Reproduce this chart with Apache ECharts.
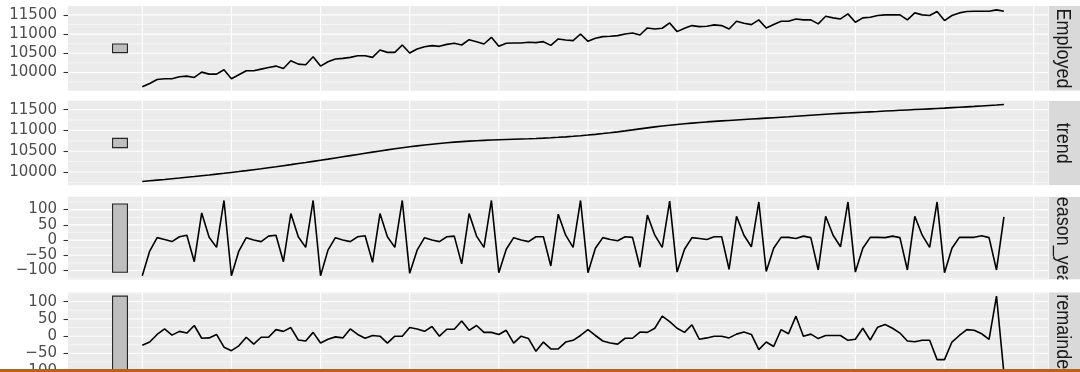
<!DOCTYPE html>
<html>
<head>
<meta charset="utf-8">
<script src="https://cdn.jsdelivr.net/npm/echarts@6/dist/echarts.min.js"></script>
<style>
  html, body { margin: 0; padding: 0; background: #ffffff; }
  #chart { width: 1080px; height: 372px; }
</style>
</head>
<body>
<div id="chart"></div>
<script>
// Monthly STL decomposition of employment: observed series and its components.
const employed = [
  9627, 9714, 9819, 9836, 9836, 9889, 9906, 9871, 10010, 9958, 9958, 10071,
  9836, 9941, 10045, 10045, 10089, 10132, 10167, 10106, 10307, 10219, 10202, 10411,
  10167, 10280, 10350, 10368, 10394, 10437, 10437, 10394, 10585, 10524, 10524, 10716,
  10507, 10611, 10672, 10699, 10681, 10733, 10760, 10716, 10855, 10803, 10742, 10916,
  10681, 10760, 10768, 10768, 10786, 10777, 10803, 10707, 10873, 10847, 10829, 11003,
  10812, 10890, 10934, 10942, 10960, 11003, 11030, 10977, 11160, 11134, 11152, 11291,
  11064, 11152, 11221, 11195, 11204, 11239, 11221, 11134, 11334, 11282, 11247, 11369,
  11160, 11247, 11334, 11334, 11395, 11369, 11369, 11265, 11465, 11422, 11395, 11526,
  11308, 11422, 11439, 11483, 11500, 11500, 11500, 11369, 11552, 11500, 11483, 11587,
  11352, 11483, 11552, 11587, 11596, 11596, 11596, 11631, 11596
];
const trend = [
  9772, 9788, 9804, 9820, 9837, 9854, 9872, 9890, 9909, 9928, 9948, 9968,
  9989, 10010, 10032, 10055, 10078, 10102, 10126, 10151, 10176, 10202, 10228, 10255,
  10282, 10309, 10337, 10365, 10393, 10421, 10449, 10477, 10504, 10531, 10557, 10582,
  10606, 10628, 10649, 10668, 10686, 10702, 10717, 10730, 10742, 10752, 10761, 10769,
  10776, 10782, 10788, 10794, 10800, 10807, 10815, 10824, 10834, 10845, 10858, 10872,
  10888, 10905, 10924, 10944, 10965, 10988, 11012, 11037, 11061, 11084, 11105, 11124,
  11142, 11159, 11175, 11190, 11204, 11217, 11229, 11240, 11251, 11262, 11273, 11284,
  11295, 11306, 11317, 11328, 11340, 11352, 11364, 11376, 11388, 11399, 11410, 11419,
  11428, 11437, 11446, 11455, 11465, 11474, 11483, 11492, 11501, 11510, 11519, 11528,
  11537, 11547, 11557, 11567, 11577, 11588, 11599, 11610, 11622
];
const seasonYear = [
  -117, -36, 8, 2, -5, 11, 16, -71, 89, 9, -24, 130,
  -117, -36, 8, 0, -5, 13, 16, -71, 87, 11, -24, 130,
  -117, -33, 8, 0, -5, 11, 14, -73, 87, 11, -24, 130,
  -109, -33, 8, 0, -5, 11, 13, -78, 87, 13, -24, 130,
  -107, -30, 8, 0, -5, 11, 11, -85, 85, 16, -24, 130,
  -107, -27, 8, 2, -2, 11, 9, -89, 82, 16, -24, 128,
  -105, -30, 8, 5, 2, 11, 11, -96, 78, 16, -22, 125,
  -103, -27, 9, 9, 5, 13, 8, -98, 78, 16, -22, 125,
  -105, -27, 9, 9, 8, 13, 8, -98, 78, 16, -24, 125,
  -107, -27, 9, 9, 9, 14, 8, -98, 76
];
const remainder = [
  -26, -17, 5, 21, 3, 14, 9, 31, -6, -5, 5, -32,
  -42, -28, -3, -23, -3, -3, 19, 14, 25, -11, -14, 11,
  -20, -9, -2, -5, 21, 5, -6, 2, 0, -20, 0, 0,
  25, 21, 14, 28, 0, 20, 20, 44, 17, 31, 11, 11,
  5, 17, -20, 0, -7, -44, -17, -37, -37, -17, -12, 2,
  19, 2, -14, -20, -23, -6, -6, 12, 11, 23, 58, 42,
  23, 11, 33, -9, -5, 0, 0, -5, 6, 12, 5, -39,
  -17, -30, 19, 7, 58, 0, 6, -7, 2, 2, 2, -12,
  -9, 23, -11, 26, 34, 23, 9, -14, -16, -12, -12, -68,
  -68, -17, 2, 19, 17, 7, -9, 116, -108
];

const panelNames = ['Employed', 'trend', 'season_year', 'remainder'];
const levelTicks = [10000, 10500, 11000, 11500];
const levelMinor = [9750, 10250, 10750, 11250];
const swingTicks = [-100, -50, 0, 50, 100];
const swingMinor = [-125, -75, -25, 25, 75, 125];
const yearBreaks = [0, 12, 24, 36, 48, 60, 72, 84, 96, 108, 120];

// ---- layout ----
const PANEL_LEFT = 68;
const PANEL_RIGHT = 1048.5;
const PANEL_TOPS = [6, 100.7, 196.7, 292.3];
const PANEL_HEIGHTS = [84.7, 84.6, 82.8, 85];
const STRIP_X = 1049;
const STRIP_W = 35;
const SCALE_BAR_X = [-4, -2]; // month units, left of the first observation

const panels = [
  { values: employed,   ticks: levelTicks, minor: levelMinor },
  { values: trend,      ticks: levelTicks, minor: levelMinor },
  { values: seasonYear, ticks: swingTicks, minor: swingMinor },
  { values: remainder,  ticks: swingTicks, minor: swingMinor }
];

// Data ranges; every scale bar spans the smallest component range.
panels.forEach(p => {
  p.lo = Math.min(...p.values);
  p.hi = Math.max(...p.values);
});
const barSpan = Math.min(...panels.map(p => p.hi - p.lo));

const nObs = employed.length;
const xLo = SCALE_BAR_X[0], xHi = nObs - 1;
const xPad = (xHi - xLo) * 0.05;

const grids = [], xAxes = [], yAxes = [], series = [];

function gridItem(params, api) {
  const cs = params.coordSys;
  const kind = api.value(0);
  const v = api.value(1);
  if (kind === 2) {
    const x = api.coord([v, 0])[0];
    return { type: 'line', shape: { x1: x, y1: cs.y, x2: x, y2: cs.y + cs.height },
             style: { stroke: '#ffffff', lineWidth: 1.1 } };
  }
  const y = api.coord([0, v])[1];
  return { type: 'line', shape: { x1: cs.x, y1: y, x2: cs.x + cs.width, y2: y },
           style: { stroke: '#ffffff', lineWidth: kind === 1 ? 1.1 : 0.55 } };
}

function barItem(params, api) {
  const a = api.coord([api.value(0), api.value(3)]);
  const b = api.coord([api.value(1), api.value(2)]);
  return { type: 'rect',
           shape: { x: a[0], y: a[1], width: b[0] - a[0], height: b[1] - a[1] },
           style: { fill: '#BEBEBE', stroke: '#262626', lineWidth: 1.1 } };
}

panels.forEach((p, i) => {
  const pad = (p.hi - p.lo) * 0.05;
  grids.push({
    left: PANEL_LEFT, top: PANEL_TOPS[i],
    width: PANEL_RIGHT - PANEL_LEFT, height: PANEL_HEIGHTS[i],
    outerBoundsMode: 'none', containLabel: false,
    show: true, backgroundColor: '#EBEBEB', borderWidth: 0
  });
  xAxes.push({
    type: 'value', gridIndex: i, show: false,
    min: xLo - xPad, max: xHi + xPad
  });
  yAxes.push({
    type: 'value', gridIndex: i, position: 'left',
    min: p.lo - pad, max: p.hi + pad,
    axisLine: { show: false, onZero: false },
    splitLine: { show: false },
    axisTick: { show: true, length: 4.5, customValues: p.ticks,
                lineStyle: { color: '#333333', width: 1.1 } },
    axisLabel: {
      customValues: p.ticks, margin: 11,
      color: '#4D4D4D', fontFamily: 'DejaVu Sans', fontSize: 15,
      formatter: v => String(v).replace('-', '\u2212')
    }
  });

  const gridData = p.minor.map(v => [0, v])
    .concat(p.ticks.map(v => [1, v]))
    .concat(yearBreaks.map(v => [2, v]));
  series.push({
    type: 'custom', xAxisIndex: i, yAxisIndex: i, z: 1, clip: false, silent: true,
    renderItem: gridItem, data: gridData
  });

  const mid = (p.lo + p.hi) / 2;
  series.push({
    type: 'custom', xAxisIndex: i, yAxisIndex: i, z: 3, clip: true, silent: true,
    encode: { x: [0, 1], y: [2, 3] },
    renderItem: barItem,
    data: [[SCALE_BAR_X[0], SCALE_BAR_X[1], mid - barSpan / 2, mid + barSpan / 2]]
  });

  series.push({
    type: 'line', xAxisIndex: i, yAxisIndex: i, z: 4,
    showSymbol: false, symbol: 'none', silent: true,
    lineStyle: { color: '#000000', width: 1.6 },
    data: p.values.map((v, k) => [k, v])
  });
});

// Facet strips on the right, with white gaps between them.
const graphics = [];
panels.forEach((p, i) => {
  const top = PANEL_TOPS[i], h = PANEL_HEIGHTS[i];
  graphics.push({
    type: 'rect', z: 10, silent: true,
    shape: { x: STRIP_X, y: top, width: STRIP_W, height: h + (i === 3 ? 20 : 0) },
    style: { fill: '#D9D9D9' }
  });
  graphics.push({
    type: 'text', z: 11, silent: true,
    x: 1063, y: top + 42.5, rotation: -Math.PI / 2, scaleY: 1.15,
    style: {
      text: panelNames[i], fill: '#1A1A1A',
      font: '18px "Liberation Sans", Arial, sans-serif',
      textAlign: 'center', textVerticalAlign: 'middle'
    }
  });
});
for (let i = 0; i < 3; i++) {
  const y0 = PANEL_TOPS[i] + PANEL_HEIGHTS[i];
  graphics.push({
    type: 'rect', z: 12, silent: true,
    shape: { x: STRIP_X, y: y0, width: STRIP_W, height: PANEL_TOPS[i + 1] - y0 },
    style: { fill: '#ffffff' }
  });
}
graphics.push({
  type: 'rect', z: 12, silent: true,
  shape: { x: STRIP_X, y: -10, width: STRIP_W, height: PANEL_TOPS[0] + 10 },
  style: { fill: '#ffffff' }
});
// Orange rule along the bottom edge.
graphics.push({
  type: 'rect', z: 20, silent: true,
  shape: { x: 0, y: 369, width: 1080, height: 3 },
  style: { fill: '#C95B0C' }
});

const chart = echarts.init(document.getElementById('chart'), null, { renderer: 'canvas' });
chart.setOption({
  animation: false,
  backgroundColor: '#ffffff',
  grid: grids,
  xAxis: xAxes,
  yAxis: yAxes,
  series: series,
  graphic: graphics
});
</script>
</body>
</html>
